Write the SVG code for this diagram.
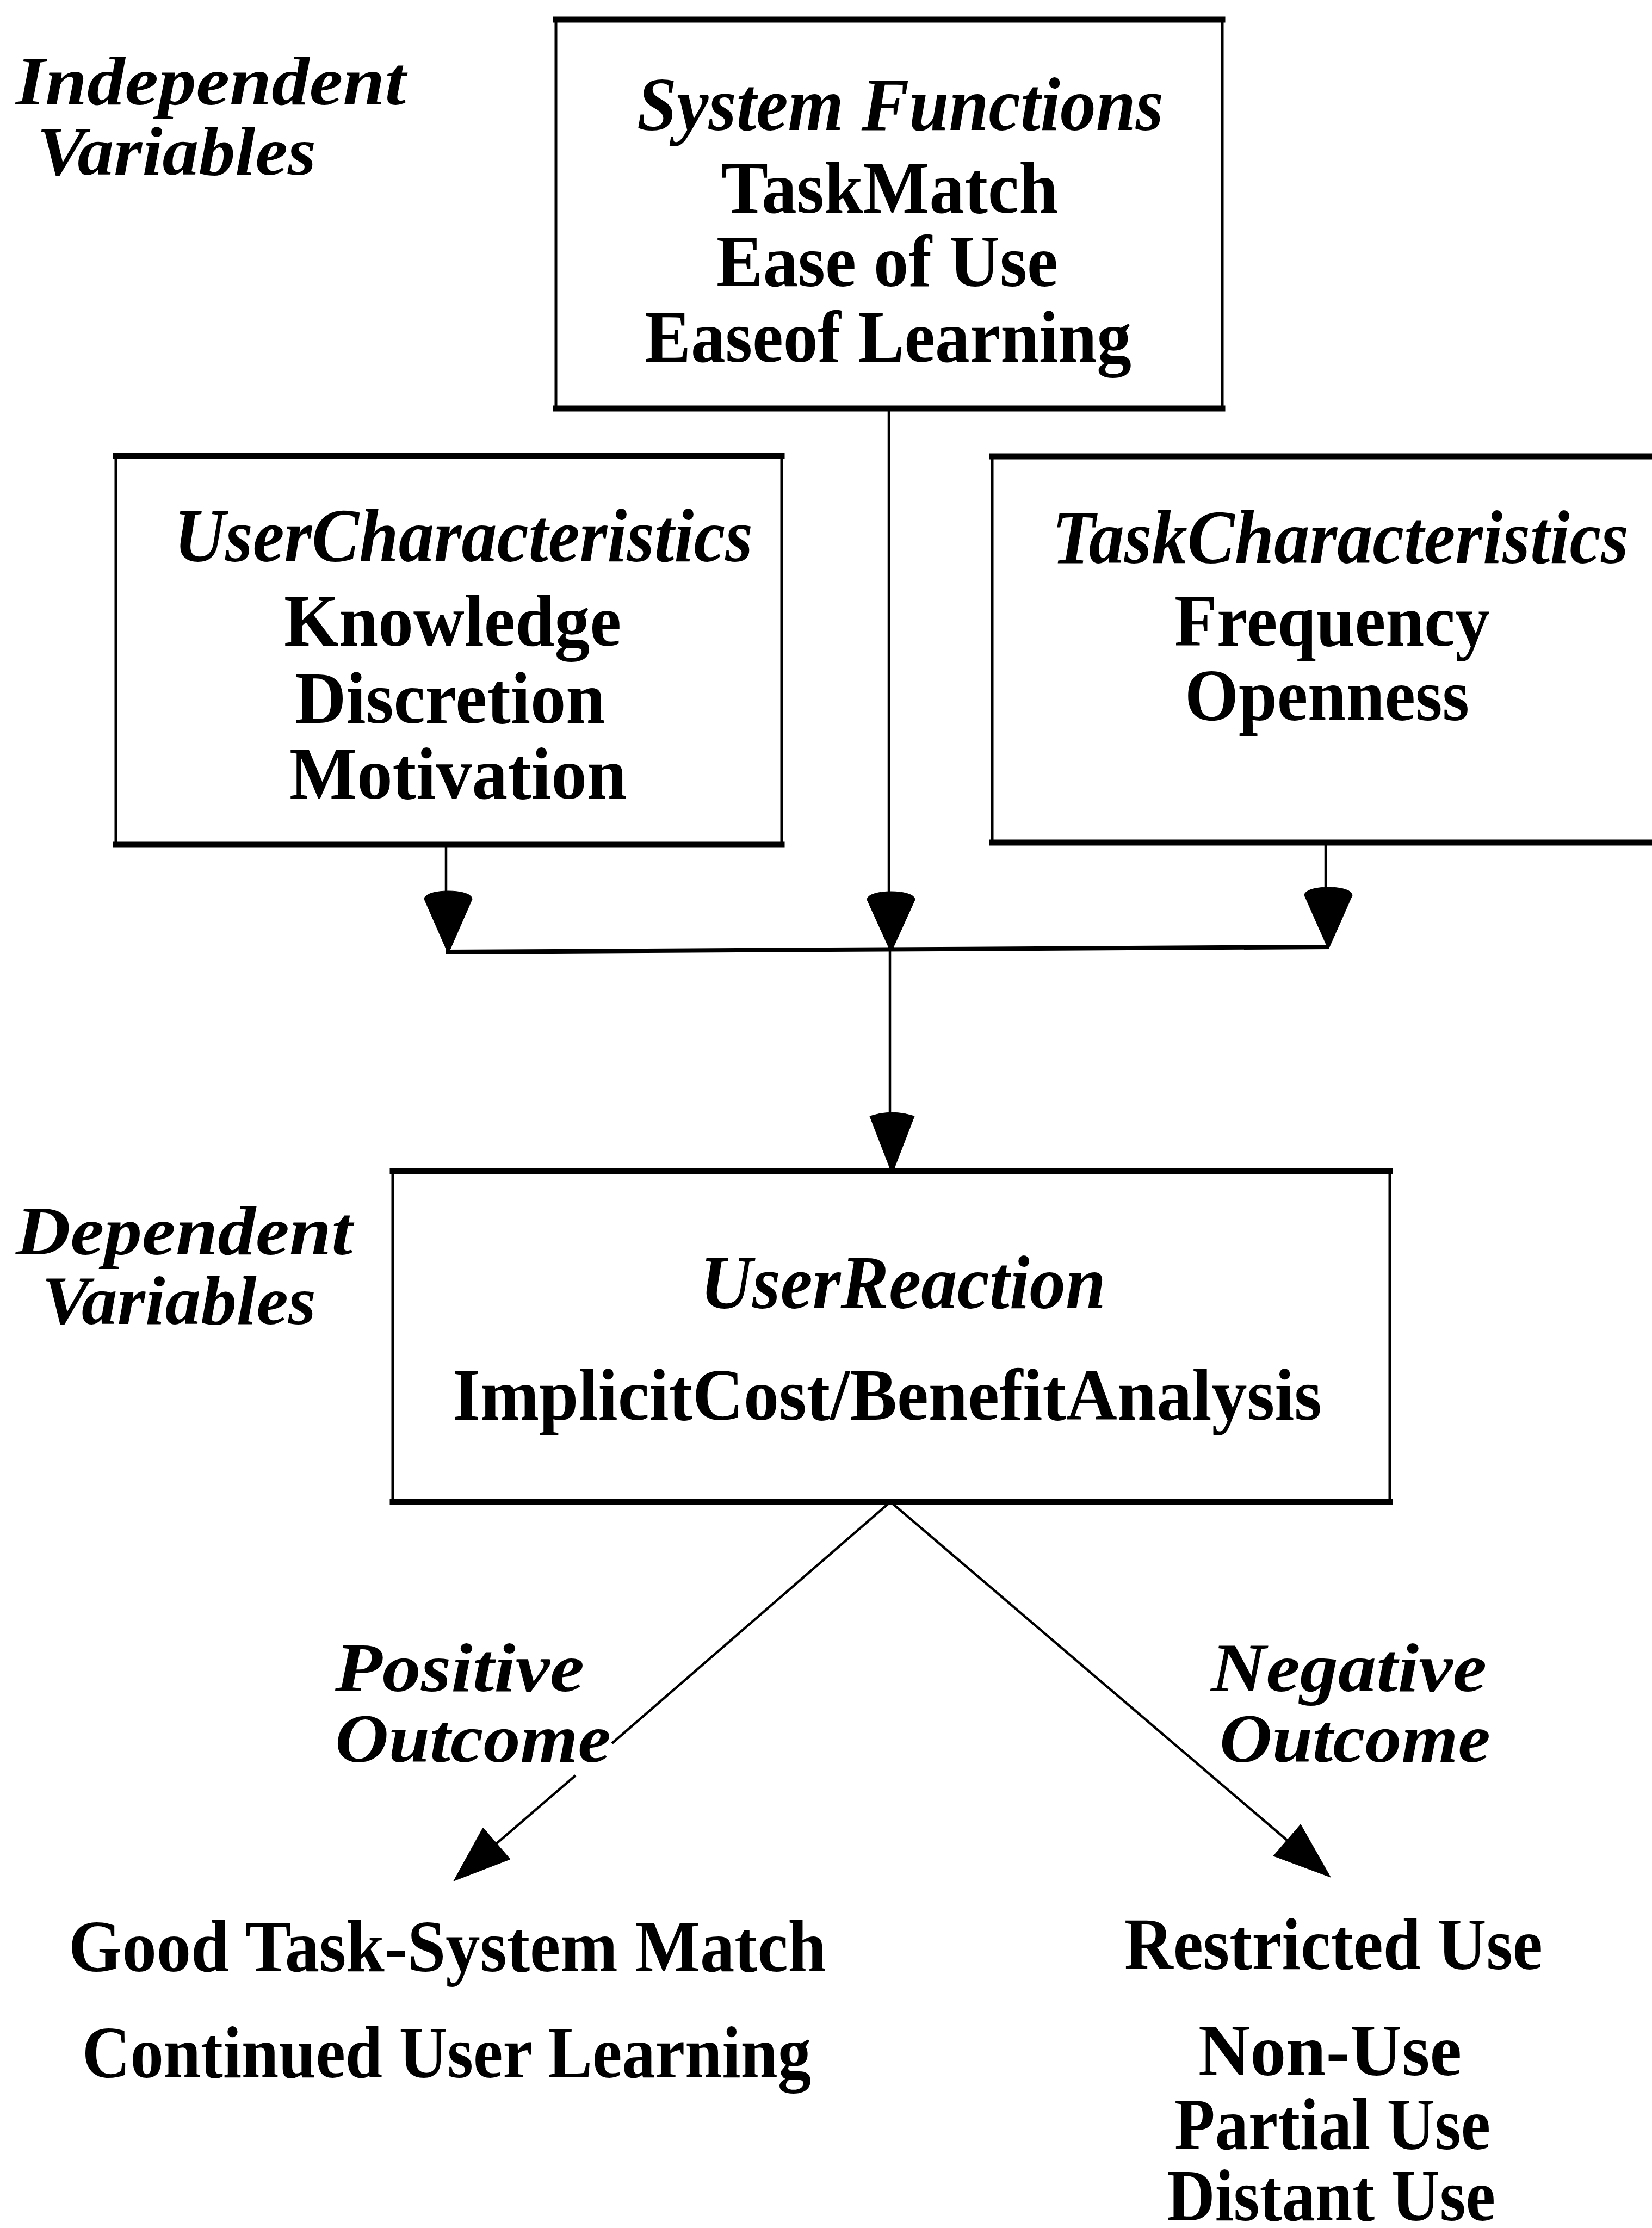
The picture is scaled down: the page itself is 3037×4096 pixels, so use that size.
<svg xmlns="http://www.w3.org/2000/svg" width="3037" height="4096" viewBox="0 0 3037 4096">
  <style>
    .side { fill: #fff; stroke: #000; stroke-width: 5; }
    .edge { stroke: #000; stroke-width: 11; stroke-linecap: square; fill: none; }
    .wire { stroke: #000; stroke-width: 4.5; fill: none; }
    .bus { stroke: #000; stroke-width: 8; fill: none; }
    .head { fill: #000; stroke: #000; stroke-width: 1; stroke-linejoin: round; }
    .it { font-family: "Liberation Serif", "Times New Roman", serif; font-style: italic; font-weight: bold; font-size: 140px; fill: #000; }
    .lbl { font-size: 128px; }
    .rm { font-family: "Liberation Serif", "Times New Roman", serif; font-weight: bold; font-size: 136px; fill: #000; }
  </style>
  <rect width="3037" height="4096" fill="#fff"/>

  <!-- side labels -->
  <g id="label-independent">
    <text class="it lbl" x="29" y="192" textLength="717" lengthAdjust="spacingAndGlyphs">Independent</text>
    <text class="it lbl" x="68" y="321" textLength="513" lengthAdjust="spacingAndGlyphs">Variables</text>
  </g>
  <g id="label-dependent">
    <text class="it lbl" x="29" y="2306" textLength="619" lengthAdjust="spacingAndGlyphs">Dependent</text>
    <text class="it lbl" x="77" y="2434" textLength="504" lengthAdjust="spacingAndGlyphs">Variables</text>
  </g>

  <!-- System Functions -->
  <g id="system-functions">
    <rect class="side" x="1022" y="36" width="1225" height="715"/>
    <line class="edge" x1="1022" y1="36" x2="2247" y2="36"/>
    <line class="edge" x1="1022" y1="751" x2="2247" y2="751"/>
    <text class="it" x="1171" y="239" textLength="968" lengthAdjust="spacingAndGlyphs">System Functions</text>
    <text class="rm" x="1326" y="391" textLength="619" lengthAdjust="spacingAndGlyphs">TaskMatch</text>
    <text class="rm" x="1317" y="526" textLength="628" lengthAdjust="spacingAndGlyphs">Ease of Use</text>
    <text class="rm" x="1185" y="665" textLength="895" lengthAdjust="spacingAndGlyphs">Easeof Learning</text>
  </g>

  <!-- User Characteristics -->
  <g id="user-characteristics">
    <rect class="side" x="213" y="838" width="1224" height="715"/>
    <line class="edge" x1="213" y1="838" x2="1437" y2="838"/>
    <line class="edge" x1="213" y1="1553" x2="1437" y2="1553"/>
    <text class="it" x="320" y="1032" textLength="1064" lengthAdjust="spacingAndGlyphs">UserCharacteristics</text>
    <text class="rm" x="522" y="1187" textLength="620" lengthAdjust="spacingAndGlyphs">Knowledge</text>
    <text class="rm" x="542" y="1329" textLength="571" lengthAdjust="spacingAndGlyphs">Discretion</text>
    <text class="rm" x="532" y="1468" textLength="620" lengthAdjust="spacingAndGlyphs">Motivation</text>
  </g>

  <!-- Task Characteristics (runs past the right edge) -->
  <g id="task-characteristics">
    <path class="side" d="M3100,839 L1824,839 L1824,1549 L3100,1549"/>
    <line class="edge" x1="1824" y1="839" x2="3100" y2="839"/>
    <line class="edge" x1="1824" y1="1549" x2="3100" y2="1549"/>
    <text class="it" x="1934" y="1035" textLength="1060" lengthAdjust="spacingAndGlyphs">TaskCharacteristics</text>
    <text class="rm" x="2159" y="1187" textLength="580" lengthAdjust="spacingAndGlyphs">Frequency</text>
    <text class="rm" x="2178" y="1324" textLength="523" lengthAdjust="spacingAndGlyphs">Openness</text>
  </g>

  <!-- User Reaction -->
  <g id="user-reaction">
    <rect class="side" x="722" y="2153" width="1833" height="608"/>
    <line class="edge" x1="722" y1="2153" x2="2555" y2="2153"/>
    <line class="edge" x1="722" y1="2761" x2="2555" y2="2761"/>
    <text class="it" x="1287" y="2405" textLength="746" lengthAdjust="spacingAndGlyphs">UserReaction</text>
    <text class="rm" x="832" y="2610" textLength="1598" lengthAdjust="spacingAndGlyphs">ImplicitCost/BenefitAnalysis</text>
  </g>

  <!-- outcome labels -->
  <g id="label-positive">
    <text class="it lbl" x="616" y="3109" textLength="458" lengthAdjust="spacingAndGlyphs">Positive</text>
    <text class="it lbl" x="616" y="3239" textLength="507" lengthAdjust="spacingAndGlyphs">Outcome</text>
  </g>
  <g id="label-negative">
    <text class="it lbl" x="2226" y="3109" textLength="507" lengthAdjust="spacingAndGlyphs">Negative</text>
    <text class="it lbl" x="2242" y="3239" textLength="498" lengthAdjust="spacingAndGlyphs">Outcome</text>
  </g>

  <!-- outcomes -->
  <g id="positive-result">
    <text class="rm" x="126" y="3624" textLength="1393" lengthAdjust="spacingAndGlyphs">Good Task-System Match</text>
    <text class="rm" x="151" y="3819" textLength="1340" lengthAdjust="spacingAndGlyphs">Continued User Learning</text>
  </g>
  <g id="negative-result">
    <text class="rm" x="2067" y="3620" textLength="769" lengthAdjust="spacingAndGlyphs">Restricted Use</text>
    <text class="rm" x="2203" y="3815" textLength="484" lengthAdjust="spacingAndGlyphs">Non-Use</text>
    <text class="rm" x="2159" y="3951" textLength="581" lengthAdjust="spacingAndGlyphs">Partial Use</text>
    <text class="rm" x="2145" y="4082" textLength="604" lengthAdjust="spacingAndGlyphs">Distant Use</text>
  </g>

  <!-- connectors -->
  <g id="connectors">
    <line class="wire" x1="820" y1="1553" x2="820" y2="1645"/>
    <line class="wire" x1="1634" y1="751" x2="1634" y2="1645"/>
    <line class="wire" x1="2437" y1="1549" x2="2437" y2="1637"/>
    <path class="head" d="M780,1653 C780,1633 868,1633 868,1653 L826,1749 L822,1749 Z"/>
    <path class="head" d="M1594,1654 C1594,1634 1682,1634 1682,1654 L1640,1747 L1636,1747 Z"/>
    <path class="head" d="M2398,1646 C2398,1626 2486,1626 2486,1646 L2444,1741 L2440,1741 Z"/>
    <line class="bus" x1="820" y1="1750" x2="2444" y2="1741"/>
    <line class="wire" x1="1636" y1="1746" x2="1636" y2="2055"/>
    <path class="head" d="M1599,2052 Q1640,2038 1681,2052 L1642,2153 L1638,2153 Z"/>
    <line class="wire" x1="1637" y1="2761" x2="1125" y2="3205"/>
    <line class="wire" x1="1058" y1="3264" x2="913" y2="3389"/>
    <polygon class="head" points="834,3458 938,3418 888,3360"/>
    <line class="wire" x1="1637" y1="2761" x2="2366" y2="3383"/>
    <polygon class="head" points="2446,3451 2341,3412 2391,3354"/>
  </g>
</svg>
